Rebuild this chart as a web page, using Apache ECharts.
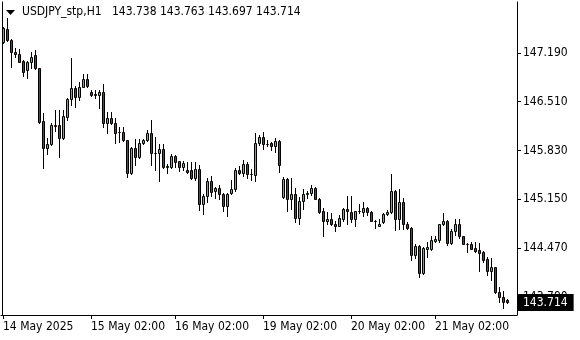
<!DOCTYPE html>
<html>
<head>
<meta charset="utf-8">
<script src="https://cdn.jsdelivr.net/npm/echarts@6/dist/echarts.min.js"></script>
<style>
  html, body { margin: 0; padding: 0; background: #fff; }
  #chart { width: 580px; height: 340px; }
</style>
</head>
<body>
<div id="chart"></div>
<script>
// Hourly USDJPY_stp bars (H1)
const openPrices = [
  147.34,147.53,147.37,147.20,147.18,147.08,146.95,147.06,147.16,146.98,
  146.24,145.87,145.92,146.18,146.18,146.00,146.30,146.55,146.70,146.57,
  146.71,146.82,146.64,146.62,146.60,146.64,146.21,146.28,146.22,146.09,
  146.09,145.98,145.52,145.87,145.74,145.93,145.97,146.07,145.79,145.79,
  145.85,145.60,145.60,145.75,145.68,145.60,145.56,145.56,145.45,145.57,
  145.08,145.19,145.41,145.26,145.30,145.22,145.05,145.23,145.29,145.56,
  145.51,145.64,145.50,145.49,145.94,146.02,145.92,145.93,145.89,145.96,
  145.18,145.43,145.15,145.22,144.89,145.12,145.22,145.23,145.31,145.16,
  144.98,144.84,144.87,144.81,144.78,144.88,145.02,144.97,144.88,144.98,
  144.97,145.03,144.97,144.85,144.78,144.83,144.94,144.97,145.27,144.88,
  145.11,144.80,144.75,144.37,144.50,144.12,144.46,144.46,144.57,144.58,
  144.80,144.84,144.54,144.70,144.80,144.63,144.53,144.53,144.47,144.44,
  144.42,144.31,144.15,144.20,143.86,143.78,143.738
];
const closePrices = [
  147.54,147.37,147.20,147.18,147.07,146.93,147.06,147.14,146.98,146.23,
  145.87,145.92,146.18,146.17,146.00,146.31,146.55,146.70,146.57,146.72,
  146.82,146.73,146.60,146.61,146.64,146.21,146.28,146.22,146.08,146.09,
  145.97,145.52,145.87,145.74,145.93,145.97,146.08,145.79,145.79,145.85,
  145.60,145.61,145.75,145.67,145.60,145.66,145.53,145.45,145.57,145.08,
  145.19,145.41,145.25,145.30,145.22,145.05,145.22,145.29,145.56,145.52,
  145.64,145.50,145.50,145.94,146.02,145.92,145.92,145.89,145.96,145.63,
  145.43,145.15,145.22,144.89,145.12,145.22,145.23,145.31,145.16,144.97,
  144.84,144.87,144.81,144.78,144.89,145.02,144.99,144.88,144.98,144.98,
  145.03,144.97,144.85,144.84,144.81,144.94,144.97,145.27,144.88,145.11,
  144.80,144.75,144.37,144.50,144.12,144.47,144.48,144.58,144.60,144.80,
  144.84,144.54,144.70,144.80,144.63,144.53,144.53,144.46,144.43,144.40,
  144.30,144.15,144.20,143.85,143.78,143.72,143.714
];
const lowPrices = [
  147.33,147.36,147.00,147.13,147.07,146.87,146.84,146.98,146.97,146.22,
  145.59,145.78,145.90,146.10,145.74,145.99,146.25,146.46,146.43,146.54,
  146.71,146.72,146.59,146.56,146.42,146.16,146.07,146.20,145.94,145.95,
  145.96,145.46,145.50,145.63,145.72,145.92,145.96,145.63,145.56,145.40,
  145.58,145.52,145.59,145.60,145.54,145.56,145.52,145.43,145.42,145.00,
  144.95,145.11,145.19,145.17,145.15,144.98,144.91,145.22,145.26,145.50,
  145.47,145.44,145.42,145.40,145.91,145.85,145.89,145.83,145.81,145.53,
  145.17,144.99,145.02,144.83,144.80,145.02,145.17,145.21,145.15,144.96,
  144.64,144.80,144.79,144.70,144.77,144.85,144.80,144.83,144.77,144.96,
  144.91,144.93,144.84,144.75,144.77,144.82,144.93,144.96,144.72,144.74,
  144.74,144.74,144.30,144.33,144.07,144.10,144.35,144.44,144.55,144.56,
  144.79,144.51,144.53,144.65,144.61,144.52,144.42,144.45,144.42,144.15,
  144.27,144.09,144.03,143.84,143.71,143.63,143.697
];
const highPrices = [
  147.55,147.68,147.38,147.26,147.25,147.09,147.08,147.21,147.23,146.98,
  146.35,146.00,146.22,146.39,146.39,146.40,146.56,147.12,146.73,146.79,
  146.90,146.90,146.68,146.67,146.67,146.76,146.37,146.37,146.28,146.16,
  146.16,145.98,145.88,145.99,145.99,145.99,146.11,146.26,146.02,145.92,
  145.92,145.64,145.78,145.77,145.69,145.69,145.67,145.67,145.67,145.63,
  145.22,145.44,145.47,145.32,145.35,145.23,145.24,145.42,145.58,145.61,
  145.70,145.67,145.57,146.07,146.05,146.09,145.98,145.95,146.00,145.97,
  145.46,145.45,145.44,145.31,145.18,145.29,145.26,145.35,145.32,145.17,
  145.03,144.97,144.96,144.84,144.93,145.03,145.20,145.20,144.99,145.08,
  145.11,145.04,144.99,144.86,144.87,144.96,145.00,145.50,145.28,145.29,
  145.17,144.83,144.76,144.52,144.51,144.48,144.56,144.63,144.64,144.81,
  144.96,144.86,144.74,144.87,144.87,144.64,144.54,144.55,144.55,144.54,
  144.43,144.34,144.33,144.21,143.92,143.87,143.763
];

// time-scale labels and the bar they sit under
const timeLabels = ['14 May 2025', '15 May 02:00', '16 May 02:00', '19 May 02:00', '20 May 02:00', '21 May 02:00'];
const timeLabelBars = [0, 22, 43, 65, 87, 108];

// price-scale labels
const priceTicks = [143.79, 144.47, 145.15, 145.83, 146.51, 147.19];
const priceMin = 143.535;
const priceMax = 147.901;

const symbolName = 'USDJPY_stp,H1';

const n = openPrices.length;
const categories = openPrices.map((_, i) => 'bar' + i).concat(['', '']);
const candleData = openPrices.map((o, i) => [i, o, closePrices[i], lowPrices[i], highPrices[i]]);
const last = n - 1;
const fmt = v => v.toFixed(3);

const FONT = "'DejaVu Sans Condensed', 'DejaVu Sans', sans-serif";
const UP = '#00ff00';
const DOWN = '#ff0000';

const chart = echarts.init(document.getElementById('chart'), null, { renderer: 'canvas' });

const showTick = (index) => timeLabelBars.indexOf(index) >= 0;

function renderCandle(params, api) {
  const idx = api.value(0);
  const o = api.value(1), c = api.value(2), l = api.value(3), h = api.value(4);
  const pO = api.coord([idx, o]);
  const pC = api.coord([idx, c]);
  const pL = api.coord([idx, l]);
  const pH = api.coord([idx, h]);
  const cx = Math.floor(pO[0]);
  const snap = y => Math.round(y) + 0.5;
  const yTop = snap(Math.min(pO[1], pC[1]));
  const yBot = snap(Math.max(pO[1], pC[1]));
  const yH = snap(pH[1]);
  const yL = snap(pL[1]);
  return {
    type: 'group',
    children: [{
      type: 'line',
      shape: { x1: cx + 0.5, y1: yH - 0.5, x2: cx + 0.5, y2: yL + 0.5 },
      style: { stroke: '#000', lineWidth: 1 }
    }, {
      type: 'rect',
      shape: { x: cx - 0.5, y: yTop, width: 2, height: yBot - yTop },
      style: { fill: c >= o ? UP : DOWN, stroke: '#000', lineWidth: 1 }
    }]
  };
}

const option = {
  animation: false,
  backgroundColor: '#ffffff',
  title: {
    text: symbolName + '   ' +
      [openPrices[last], highPrices[last], lowPrices[last], closePrices[last]].map(fmt).join(' '),
    left: 22,
    top: 6,
    padding: 0,
    textStyle: {
      fontFamily: FONT,
      fontSize: 12,
      fontWeight: 'normal',
      color: '#000'
    }
  },
  graphic: [{
    type: 'polygon',
    silent: true,
    shape: { points: [[6, 10], [15, 10], [10.5, 15]] },
    style: { fill: '#000' }
  }],
  grid: {
    left: 1,
    right: 63,
    top: 2,
    bottom: 25,
    containLabel: false,
    outerBoundsMode: 'none'
  },
  xAxis: [{
    type: 'category',
    data: categories,
    boundaryGap: true,
    axisLine: { show: true, lineStyle: { color: '#000', width: 1 } },
    axisTick: {
      show: true,
      alignWithLabel: true,
      length: 4,
      interval: showTick,
      lineStyle: { color: '#000', width: 1 }
    },
    axisLabel: {
      show: true,
      interval: showTick,
      formatter: (value, index) => {
        const k = timeLabelBars.indexOf(index);
        return k >= 0 ? timeLabels[k] : '';
      },
      align: 'left',
      margin: 6,
      color: '#000',
      fontFamily: FONT,
      fontSize: 12,
      hideOverlap: false
    },
    splitLine: { show: false }
  }],
  yAxis: [{
    type: 'value',
    position: 'right',
    min: priceMin,
    max: priceMax,
    axisLine: { show: true, onZero: false, lineStyle: { color: '#000', width: 1 } },
    axisTick: { show: true, length: 4, customValues: priceTicks, lineStyle: { color: '#000' } },
    axisLabel: {
      show: true,
      customValues: priceTicks,
      formatter: v => fmt(v),
      margin: 6,
      color: '#000',
      fontFamily: FONT,
      fontSize: 12
    },
    splitLine: { show: false }
  }, {
    type: 'value',
    position: 'left',
    offset: -1,
    min: priceMin,
    max: priceMax,
    axisLine: { show: true, onZero: false, lineStyle: { color: '#000', width: 1 } },
    axisTick: { show: false },
    axisLabel: { show: false },
    splitLine: { show: false }
  }],
  series: [{
    type: 'custom',
    xAxisIndex: 0,
    yAxisIndex: 0,
    data: candleData,
    encode: { x: 0, y: [1, 2, 3, 4] },
    renderItem: renderCandle,
    clip: true,
    silent: true,
    markLine: {
      silent: true,
      symbol: ['none', 'none'],
      animation: false,
      lineStyle: { color: 'rgba(0,0,0,0)', width: 1, type: 'solid' },
      label: {
        show: true,
        position: 'end',
        distance: 1,
        formatter: fmt(closePrices[last]),
        backgroundColor: '#000',
        color: '#fff',
        padding: [3, 6, 2, 5],
        fontFamily: FONT,
        fontSize: 12
      },
      emphasis: { disabled: true },
      data: [{ yAxis: closePrices[last] }]
    }
  }]
};

chart.setOption(option);
</script>
</body>
</html>
